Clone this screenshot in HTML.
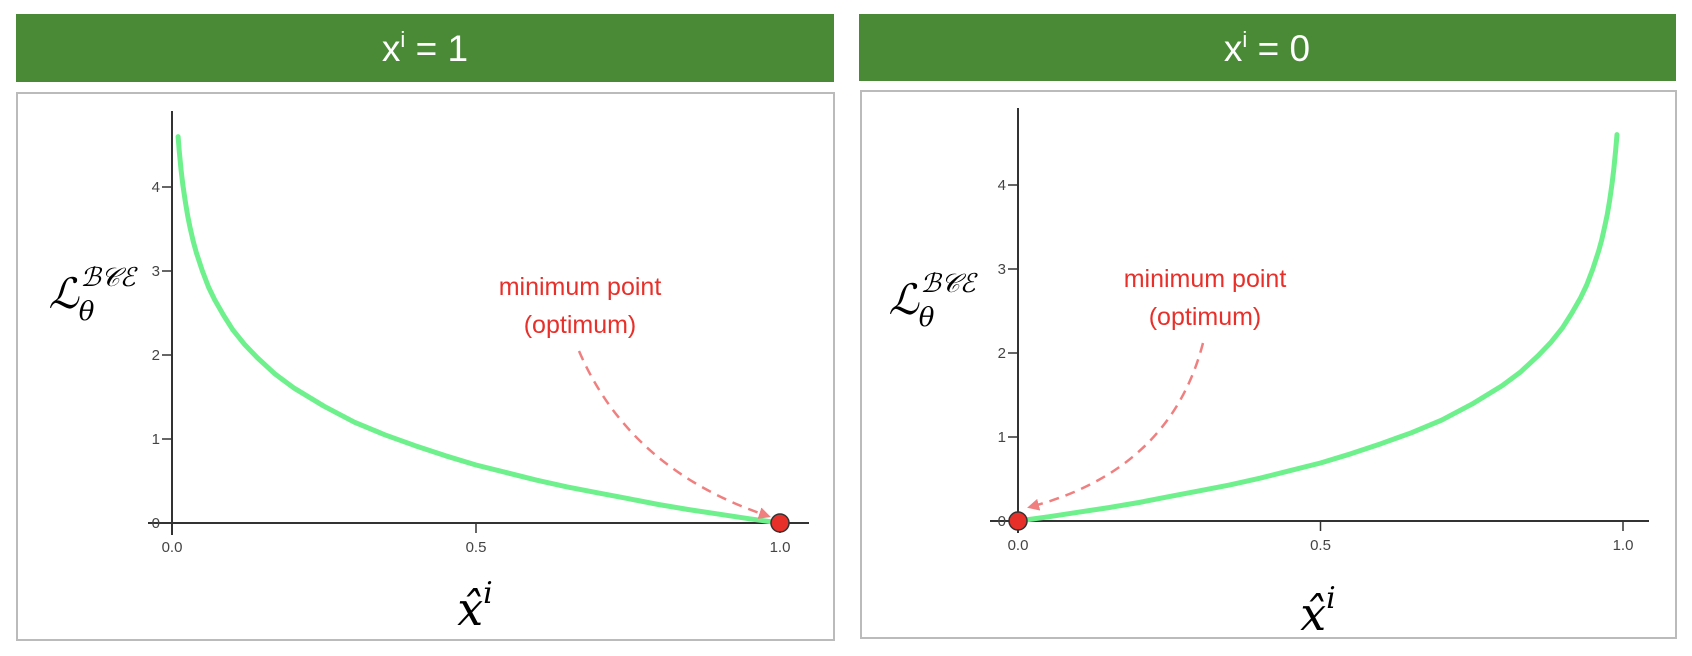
<!DOCTYPE html>
<html><head><meta charset="utf-8">
<style>
body{margin:0;background:#fff;}
svg{display:block;font-family:"Liberation Sans",sans-serif;}
</style></head>
<body>
<svg id="chart" width="1692" height="656" viewBox="0 0 1692 656">
<defs>
<marker id="ah" markerWidth="12" markerHeight="12" refX="9" refY="6" orient="auto" markerUnits="userSpaceOnUse" viewBox="0 0 12 12">
<path d="M0,0 L12,6 L0,12 z" fill="#f08080"/>
</marker>
</defs>
<rect x="16" y="14" width="818" height="68" fill="#4a8a37"/>
<text x="425" y="61" fill="#fff" font-size="37" text-anchor="middle">x<tspan font-size="22" dy="-14">i</tspan><tspan dy="14"> = 1</tspan></text>
<rect x="859" y="14" width="817" height="67" fill="#4a8a37"/>
<text x="1267" y="61" fill="#fff" font-size="37" text-anchor="middle">x<tspan font-size="22" dy="-14">i</tspan><tspan dy="14"> = 0</tspan></text>
<rect x="17" y="93" width="817" height="547" fill="#fff" stroke="#bbb" stroke-width="2"/>
<rect x="861" y="91" width="815" height="547" fill="#fff" stroke="#bbb" stroke-width="2"/>
<g id="plots"></g>
</svg>
<script>
const yTicks=[0,1,2,3,4];
const xTicks=[0,0.5,1];
const xTickLabels=["0.0","0.5","1.0"];
const xsLeft=[0.01,0.012,0.015,0.018,0.022,0.026,0.03,0.035,0.04,0.05,0.06,0.07,0.085,0.1,0.12,0.14,0.17,0.2,0.25,0.3,0.35,0.4,0.45,0.5,0.55,0.6,0.65,0.7,0.75,0.8,0.85,0.9,0.95,1.0];
const ysLeft=[4.6,4.42,4.2,4.02,3.82,3.65,3.51,3.35,3.22,3.0,2.81,2.66,2.47,2.3,2.12,1.97,1.77,1.61,1.39,1.2,1.05,0.92,0.8,0.69,0.6,0.51,0.43,0.36,0.29,0.22,0.16,0.105,0.05,0];
const xsRight=[0,0.05,0.1,0.15,0.2,0.25,0.3,0.35,0.4,0.45,0.5,0.55,0.6,0.65,0.7,0.75,0.8,0.83,0.86,0.88,0.9,0.915,0.93,0.94,0.95,0.96,0.965,0.97,0.974,0.978,0.982,0.985,0.988,0.99];
const ysRight=[0,0.05,0.105,0.16,0.22,0.29,0.36,0.43,0.51,0.6,0.69,0.8,0.92,1.05,1.2,1.39,1.61,1.77,1.97,2.12,2.3,2.47,2.66,2.81,3.0,3.22,3.35,3.51,3.65,3.82,4.02,4.2,4.42,4.6];
const NS="http://www.w3.org/2000/svg";
const g=document.getElementById('plots');
function mk(tag,attrs,parent){const e=document.createElementNS(NS,tag);for(const k in attrs)e.setAttribute(k,attrs[k]);(parent||g).appendChild(e);return e;}
function panel(p){
  const sx=v=>p.x0+v*p.xs, sy=v=>p.y0-v*84;
  const grp=mk('g',{});
  
  
  let a=mk('line',{x1:p.x0,y1:p.y0+12,x2:p.x0,y2:p.top,stroke:'#333','stroke-width':2},grp);
  
  
  a=mk('line',{x1:p.xl,y1:p.y0,x2:p.xr,y2:p.y0,stroke:'#333','stroke-width':2},grp);
  
  
  yTicks.forEach(t=>{
    mk('line',{x1:p.x0-10,y1:sy(t),x2:p.x0,y2:sy(t),stroke:'#333','stroke-width':1.5},grp);
    const tx=mk('text',{x:p.x0-12,y:sy(t)+5,'font-size':15,fill:'#444','text-anchor':'end'},grp);
    tx.textContent=t;
    
    
  });
  xTicks.forEach((t,i)=>{
    mk('line',{x1:sx(t),y1:p.y0,x2:sx(t),y2:p.y0+10,stroke:'#333','stroke-width':1.5},grp);
    const tx=mk('text',{x:sx(t),y:p.y0+29,'font-size':15,fill:'#444','text-anchor':'middle'},grp);
    tx.textContent=xTickLabels[i];
    
    
  });
  const d=p.xsd.map((x,i)=>(i?'L':'M')+sx(x).toFixed(1)+','+sy(p.ysd[i]).toFixed(1)).join(' ');
  const c=mk('path',{d:d,fill:'none',stroke:'#6ef08c','stroke-width':5,'stroke-linejoin':'round','stroke-linecap':'round'},grp);
  
  
  const ar=mk('path',{d:p.arrow,fill:'none',stroke:'#f08080','stroke-width':2.5,'stroke-dasharray':'10,7','marker-end':'url(#ah)'},grp);
  
  
  const dot=mk('circle',{cx:sx(p.minX),cy:sy(0),r:9,fill:'#e8302a',stroke:'#333','stroke-width':1.5},grp);
  
  
  let t1=mk('text',{x:p.lx,y:p.ly,'font-size':25,fill:'#e8302a','text-anchor':'middle'},grp);
  t1.textContent='minimum point';
  
  
  let t2=mk('text',{x:p.lx,y:p.ly+38,'font-size':25,fill:'#e8302a','text-anchor':'middle'},grp);
  t2.textContent='(optimum)';
  
  
  const yl=mk('text',{x:p.ylx,y:p.yly,'font-size':42,fill:'#000','font-family':'DejaVu Serif, serif','font-style':'italic','text-anchor':'middle'},grp);
  yl.innerHTML='ℒ<tspan font-size="26" dy="12">θ</tspan><tspan font-size="26" dx="-14" dy="-34">ℬ𝒞ℰ</tspan>';
  
  
  const xl=mk('text',{x:p.xlx,y:p.xly,'font-size':46,fill:'#000','font-family':'DejaVu Serif, serif','font-style':'italic','text-anchor':'middle'},grp);
  xl.innerHTML='x̂<tspan font-size="30" dy="-22">i</tspan>';
  
  
}
panel({name:'left',x0:172,xs:608,y0:523,top:111,xl:148,xr:809,xsd:xsLeft,ysd:ysLeft,minX:1,
  arrow:'M579,351 Q630,470 768,516',lx:580,ly:295,ylx:92,yly:308,xlx:475,xly:625});
panel({name:'right',x0:1018,xs:605,y0:521,top:108,xl:990,xr:1649,xsd:xsRight,ysd:ysRight,minX:0,
  arrow:'M1203,343 Q1170,470 1030,507',lx:1205,ly:287,ylx:932,yly:314,xlx:1318,xly:630});
</script>
</body></html>
